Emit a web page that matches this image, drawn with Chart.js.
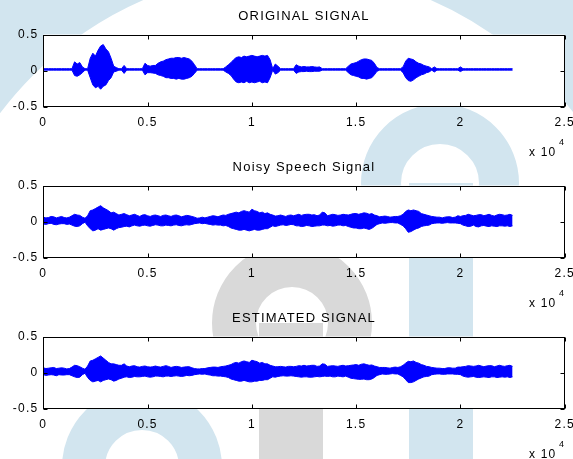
<!DOCTYPE html>
<html>
<head>
<meta charset="utf-8">
<script src="https://cdn.jsdelivr.net/npm/chart.js@4.4.0/dist/chart.umd.min.js"></script>
<style>
  html, body { margin: 0; padding: 0; background: #fff; overflow: hidden; }
  #wrap { position: relative; width: 573px; height: 459px; }
  #wrap svg, #wrap canvas { position: absolute; left: 0; }
</style>
</head>
<body>
<div id="wrap">
  <!-- faint logo watermark behind the figure -->
  <svg width="573" height="459" style="top:0">
    <circle cx="287" cy="329" r="559" fill="none" stroke="#d2e5ef" stroke-width="400"/>
    <circle cx="440" cy="183" r="59" fill="none" stroke="#d2e5ef" stroke-width="40"/>
    <rect x="409" y="183" width="64" height="280" fill="#d2e5ef"/>
    <circle cx="292" cy="323" r="58" fill="none" stroke="#d9d9d9" stroke-width="44"/>
    <rect x="259" y="323" width="64" height="140" fill="#d9d9d9"/>
    <circle cx="142" cy="467" r="58.5" fill="none" stroke="#d2e5ef" stroke-width="43"/>
  </svg>
  <canvas id="c1" width="573" height="165" style="top:0"></canvas>
  <canvas id="c2" width="573" height="165" style="top:151px"></canvas>
  <canvas id="c3" width="573" height="165" style="top:302px"></canvas>
</div>
<script>
// sample index (x axis), one envelope reading every 125 samples
const sampleIdx = [
  0, 125, 250, 375, 500, 625, 750, 875, 1000, 1125, 1250, 1375, 1500, 1625, 1750, 1875,
  2000, 2125, 2250, 2375, 2500, 2625, 2750, 2875, 3000, 3125, 3250, 3375, 3500, 3625, 3750, 3875,
  4000, 4125, 4250, 4375, 4500, 4625, 4750, 4875, 5000, 5125, 5250, 5375, 5500, 5625, 5750, 5875,
  6000, 6125, 6250, 6375, 6500, 6625, 6750, 6875, 7000, 7125, 7250, 7375, 7500, 7625, 7750, 7875,
  8000, 8125, 8250, 8375, 8500, 8625, 8750, 8875, 9000, 9125, 9250, 9375, 9500, 9625, 9750, 9875,
  10000, 10125, 10250, 10375, 10500, 10625, 10750, 10875, 11000, 11125, 11250, 11375, 11500, 11625, 11750, 11875,
  12000, 12125, 12250, 12375, 12500, 12625, 12750, 12875, 13000, 13125, 13250, 13375, 13500, 13625, 13750, 13875,
  14000, 14125, 14250, 14375, 14500, 14625, 14750, 14875, 15000, 15125, 15250, 15375, 15500, 15625, 15750, 15875,
  16000, 16125, 16250, 16375, 16500, 16625, 16750, 16875, 17000, 17125, 17250, 17375, 17500, 17625, 17750, 17875,
  18000, 18125, 18250, 18375, 18500, 18625, 18750, 18875, 19000, 19125, 19250, 19375, 19500, 19625, 19750, 19875,
  20000, 20125, 20250, 20375, 20500, 20625, 20750, 20875, 21000, 21125, 21250, 21375, 21500, 21625, 21750, 21875,
  22000, 22125, 22250, 22375, 22500];

// upper / lower envelope of each waveform
const origUpper = [
  0.025, 0.025, 0.025, 0.025, 0.025, 0.025, 0.025, 0.025, 0.025, 0.025, 0.025,
  0.025, 0.12, 0.09, 0.11, 0.05, 0.025,
  0.025, 0.17, 0.24, 0.2, 0.28, 0.34, 0.36, 0.3, 0.26, 0.17, 0.06, 0.04,
  0.025, 0.025, 0.07,
  0.025, 0.025, 0.025, 0.025, 0.025, 0.025, 0.025,
  0.1, 0.07, 0.06, 0.07, 0.07,
  0.1, 0.12, 0.13, 0.15, 0.16, 0.17, 0.17, 0.18, 0.18, 0.17, 0.18, 0.17, 0.16, 0.13, 0.08, 0.025,
  0.025, 0.025, 0.025, 0.025, 0.025, 0.025, 0.025, 0.025, 0.025, 0.025,
  0.05, 0.08, 0.11, 0.15, 0.18, 0.19, 0.18, 0.2, 0.19, 0.2, 0.21, 0.2, 0.19, 0.2, 0.21, 0.2, 0.21, 0.15, 0.025, 0.09, 0.06, 0.025,
  0.025, 0.025, 0.025, 0.025, 0.025,
  0.08, 0.06, 0.05, 0.055, 0.05, 0.05, 0.055, 0.05, 0.045, 0.05, 0.025,
  0.025, 0.025, 0.025, 0.025, 0.025, 0.025, 0.025, 0.025, 0.025,
  0.06, 0.09, 0.1, 0.11, 0.13, 0.15, 0.16, 0.16, 0.15, 0.14, 0.1, 0.04, 0.025,
  0.025, 0.025, 0.025, 0.025, 0.025, 0.025, 0.025, 0.025,
  0.05, 0.13, 0.17, 0.16, 0.15, 0.12, 0.1, 0.09, 0.07, 0.06, 0.05, 0.025, 0.05, 0.025,
  0.025, 0.025, 0.025, 0.025, 0.025, 0.025, 0.025, 0.025,
  0.05,
  0.025, 0.025, 0.025, 0.025, 0.025, 0.025, 0.025, 0.025, 0.025, 0.025,
  0.025, 0.025, 0.025, 0.025, 0.025, 0.025, 0.025, 0.025, 0.025, 0.025];
const origLower = [
  0.005, 0.005, 0.005, 0.005, 0.005, 0.005, 0.005, 0.005, 0.005, 0.005, 0.005,
  0.005, -0.07, -0.08, -0.06, -0.03, 0.005,
  0.005, -0.1, -0.2, -0.24, -0.22, -0.26, -0.22, -0.2, -0.14, -0.1, -0.02, -0.01,
  0.005, 0.005, -0.04,
  0.005, 0.005, 0.005, 0.005, 0.005, 0.005, 0.005,
  -0.06, -0.03, -0.03, -0.035, -0.04,
  -0.06, -0.07, -0.08, -0.1, -0.1, -0.11, -0.11, -0.12, -0.11, -0.12, -0.12, -0.11, -0.1, -0.08, -0.04, 0.005,
  0.005, 0.005, 0.005, 0.005, 0.005, 0.005, 0.005, 0.005, 0.005, 0.005,
  -0.02, -0.04, -0.07, -0.12, -0.16, -0.17, -0.16, -0.17, -0.15, -0.17, -0.16, -0.17, -0.16, -0.15, -0.17, -0.16, -0.17, -0.1, 0.005, -0.05, -0.03, 0.005,
  0.005, 0.005, 0.005, 0.005, 0.005,
  -0.04, -0.02, -0.015, -0.015, -0.01, -0.015, -0.015, -0.01, -0.01, -0.01, 0.005,
  0.005, 0.005, 0.005, 0.005, 0.005, 0.005, 0.005, 0.005, 0.005,
  -0.03, -0.06, -0.07, -0.08, -0.09, -0.11, -0.11, -0.12, -0.11, -0.1, -0.06, -0.01, 0.005,
  0.005, 0.005, 0.005, 0.005, 0.005, 0.005, 0.005, 0.005,
  -0.03, -0.1, -0.14, -0.15, -0.13, -0.1, -0.08, -0.06, -0.05, -0.03, -0.02, 0.005, -0.02, 0.005,
  0.005, 0.005, 0.005, 0.005, 0.005, 0.005, 0.005, 0.005,
  -0.015,
  0.005, 0.005, 0.005, 0.005, 0.005, 0.005, 0.005, 0.005, 0.005, 0.005,
  0.005, 0.005, 0.005, 0.005, 0.005, 0.005, 0.005, 0.005, 0.005, 0.005];

const noisyUpper = [
  0.06, 0.05, 0.055, 0.07, 0.065, 0.05, 0.06, 0.07, 0.055, 0.05, 0.06, 0.08, 0.10, 0.09, 0.085, 0.06,
  0.045, 0.08, 0.15, 0.16, 0.18, 0.2, 0.22, 0.19, 0.17, 0.15, 0.12, 0.13, 0.11, 0.09, 0.10, 0.11,
  0.095, 0.08, 0.09, 0.1, 0.085, 0.07, 0.09, 0.095, 0.08, 0.07, 0.085, 0.09, 0.08, 0.07, 0.085, 0.09,
  0.08, 0.07, 0.085, 0.09, 0.08, 0.065, 0.075, 0.085, 0.08, 0.07, 0.06, 0.045, 0.05, 0.06, 0.05, 0.06,
  0.07, 0.08, 0.075, 0.065, 0.08, 0.09, 0.085, 0.1, 0.11, 0.12, 0.13, 0.12, 0.14, 0.15, 0.14, 0.13,
  0.17, 0.15, 0.14, 0.12, 0.13, 0.11, 0.12, 0.1, 0.09, 0.075, 0.08, 0.09, 0.08, 0.07, 0.085, 0.09,
  0.08, 0.09, 0.10, 0.085, 0.095, 0.1, 0.10, 0.09, 0.095, 0.08, 0.09, 0.13, 0.12, 0.08, 0.09, 0.1,
  0.095, 0.085, 0.09, 0.1, 0.095, 0.09, 0.10, 0.11, 0.11, 0.1, 0.11, 0.12, 0.115, 0.1, 0.11, 0.09,
  0.08, 0.065, 0.07, 0.075, 0.07, 0.06, 0.065, 0.07, 0.07, 0.08, 0.10, 0.14, 0.16, 0.15, 0.16, 0.15,
  0.14, 0.11, 0.10, 0.09, 0.08, 0.07, 0.065, 0.06, 0.06, 0.05, 0.06, 0.065, 0.065, 0.055, 0.06, 0.08,
  0.07, 0.08, 0.085, 0.1, 0.09, 0.08, 0.085, 0.095, 0.095, 0.08, 0.09, 0.1, 0.085, 0.075, 0.09, 0.1,
  0.095, 0.085, 0.09, 0.1, 0.085];
const noisyLower = [
  -0.035, -0.04, -0.03, -0.025, -0.04, -0.045, -0.035, -0.03, -0.03, -0.04, -0.035, -0.05, -0.065, -0.07, -0.06, -0.03,
  -0.01, -0.06, -0.10, -0.13, -0.12, -0.1, -0.12, -0.11, -0.10, -0.09, -0.10, -0.12, -0.10, -0.085, -0.08, -0.07,
  -0.065, -0.075, -0.06, -0.05, -0.06, -0.065, -0.055, -0.05, -0.06, -0.065, -0.055, -0.045, -0.05, -0.06, -0.06, -0.05,
  -0.055, -0.06, -0.05, -0.045, -0.055, -0.06, -0.05, -0.045, -0.05, -0.04, -0.03, -0.025, -0.02, -0.03, -0.025, -0.035,
  -0.04, -0.05, -0.045, -0.05, -0.05, -0.06, -0.055, -0.07, -0.09, -0.1, -0.11, -0.12, -0.12, -0.11, -0.12, -0.13,
  -0.12, -0.11, -0.12, -0.12, -0.11, -0.1, -0.10, -0.08, -0.06, -0.07, -0.06, -0.05, -0.045, -0.055, -0.05, -0.04,
  -0.045, -0.06, -0.06, -0.07, -0.065, -0.055, -0.06, -0.07, -0.065, -0.06, -0.06, -0.05, -0.05, -0.06, -0.055, -0.065,
  -0.06, -0.05, -0.05, -0.06, -0.055, -0.07, -0.08, -0.09, -0.09, -0.1, -0.10, -0.09, -0.10, -0.11, -0.095, -0.07,
  -0.04, -0.03, -0.02, -0.025, -0.02, -0.015, -0.015, -0.02, -0.02, -0.04, -0.06, -0.1, -0.15, -0.14, -0.12, -0.1,
  -0.09, -0.07, -0.06, -0.055, -0.05, -0.03, -0.025, -0.02, -0.02, -0.025, -0.02, -0.015, -0.02, -0.02, -0.02, -0.025,
  -0.03, -0.05, -0.06, -0.07, -0.065, -0.05, -0.07, -0.075, -0.06, -0.055, -0.065, -0.07, -0.06, -0.065, -0.07, -0.06,
  -0.06, -0.065, -0.06, -0.07, -0.06];

const estUpper = [
  0.065, 0.055, 0.06, 0.065, 0.07, 0.055, 0.06, 0.065, 0.06, 0.05, 0.055, 0.075, 0.10, 0.095, 0.08, 0.06,
  0.045, 0.09, 0.16, 0.17, 0.19, 0.21, 0.23, 0.2, 0.17, 0.14, 0.12, 0.12, 0.11, 0.1, 0.10, 0.12,
  0.09, 0.08, 0.09, 0.095, 0.08, 0.075, 0.085, 0.09, 0.08, 0.075, 0.08, 0.09, 0.08, 0.075, 0.085, 0.095,
  0.085, 0.07, 0.08, 0.085, 0.08, 0.07, 0.075, 0.08, 0.08, 0.065, 0.055, 0.05, 0.05, 0.055, 0.055, 0.065,
  0.07, 0.075, 0.075, 0.07, 0.08, 0.085, 0.09, 0.1, 0.11, 0.13, 0.14, 0.13, 0.15, 0.16, 0.15, 0.14,
  0.17, 0.16, 0.15, 0.13, 0.14, 0.12, 0.12, 0.1, 0.09, 0.08, 0.08, 0.085, 0.08, 0.075, 0.085, 0.085,
  0.08, 0.085, 0.095, 0.09, 0.10, 0.09, 0.095, 0.1, 0.10, 0.085, 0.09, 0.12, 0.115, 0.085, 0.09, 0.095,
  0.09, 0.085, 0.095, 0.1, 0.09, 0.095, 0.10, 0.105, 0.11, 0.1, 0.115, 0.12, 0.11, 0.1, 0.105, 0.09,
  0.08, 0.07, 0.07, 0.07, 0.065, 0.06, 0.07, 0.075, 0.07, 0.08, 0.10, 0.13, 0.155, 0.15, 0.16, 0.14,
  0.13, 0.11, 0.10, 0.085, 0.08, 0.07, 0.065, 0.06, 0.06, 0.055, 0.055, 0.065, 0.065, 0.06, 0.06, 0.075,
  0.075, 0.08, 0.085, 0.095, 0.09, 0.085, 0.09, 0.1, 0.09, 0.08, 0.09, 0.095, 0.095, 0.08, 0.09, 0.1,
  0.09, 0.085, 0.095, 0.1, 0.085];
const estLower = [
  -0.03, -0.04, -0.035, -0.03, -0.035, -0.045, -0.03, -0.035, -0.035, -0.03, -0.03, -0.045, -0.06, -0.07, -0.065, -0.03,
  -0.01, -0.07, -0.11, -0.13, -0.12, -0.11, -0.13, -0.11, -0.10, -0.09, -0.10, -0.12, -0.11, -0.09, -0.08, -0.065,
  -0.06, -0.07, -0.065, -0.055, -0.06, -0.06, -0.055, -0.05, -0.06, -0.065, -0.06, -0.05, -0.05, -0.055, -0.06, -0.05,
  -0.05, -0.055, -0.05, -0.045, -0.05, -0.055, -0.05, -0.04, -0.045, -0.04, -0.03, -0.025, -0.02, -0.025, -0.02, -0.03,
  -0.035, -0.045, -0.045, -0.05, -0.05, -0.055, -0.06, -0.07, -0.09, -0.1, -0.11, -0.12, -0.12, -0.11, -0.12, -0.13,
  -0.13, -0.12, -0.12, -0.11, -0.11, -0.1, -0.10, -0.08, -0.06, -0.065, -0.055, -0.05, -0.045, -0.05, -0.05, -0.045,
  -0.05, -0.055, -0.06, -0.065, -0.06, -0.06, -0.065, -0.065, -0.06, -0.055, -0.06, -0.055, -0.05, -0.055, -0.05, -0.06,
  -0.06, -0.05, -0.055, -0.06, -0.05, -0.065, -0.08, -0.085, -0.09, -0.095, -0.095, -0.09, -0.10, -0.1, -0.09, -0.07,
  -0.04, -0.03, -0.02, -0.025, -0.025, -0.02, -0.015, -0.02, -0.02, -0.04, -0.06, -0.1, -0.14, -0.14, -0.13, -0.11,
  -0.09, -0.075, -0.06, -0.055, -0.05, -0.03, -0.025, -0.02, -0.02, -0.025, -0.025, -0.02, -0.02, -0.02, -0.025, -0.025,
  -0.03, -0.05, -0.06, -0.065, -0.06, -0.055, -0.065, -0.07, -0.065, -0.06, -0.065, -0.07, -0.06, -0.06, -0.07, -0.065,
  -0.06, -0.065, -0.06, -0.07, -0.06];

const titles = ['ORIGINAL SIGNAL', 'Noisy Speech Signal', 'ESTIMATED SIGNAL'];
const xTickStep = 5000;
const yTicks = [-0.5, 0, 0.5];

const blue = '#0000ff';
const fontFamily = "'Liberation Sans', Arial, Helvetica, sans-serif";

// MATLAB-ish axes: white box, black frame, inward tick marks, "x 10^4" exponent
const matlabBox = {
  id: 'matlabBox',
  beforeDraw(chart) {
    const { ctx, chartArea: a } = chart;
    ctx.letterSpacing = '1.2px';
    ctx.save();
    ctx.fillStyle = '#fff';
    ctx.fillRect(a.left, a.top, a.right - a.left, a.bottom - a.top);
    ctx.restore();
  },
  afterDatasetsDraw(chart) {
    const { ctx, chartArea: a, scales } = chart;
    const l = Math.round(a.left) + 0.5, r = Math.round(a.right) - 0.5;
    const t = Math.round(a.top) + 0.5, b = Math.round(a.bottom) - 0.5;
    ctx.save();
    ctx.strokeStyle = '#000';
    ctx.lineWidth = 1;
    ctx.strokeRect(l, t, r - l, b - t);
    ctx.beginPath();
    scales.x.ticks.forEach(tk => {
      const px = Math.round(scales.x.getPixelForValue(tk.value)) + 0.5;
      ctx.moveTo(px, b); ctx.lineTo(px, b - 4);
      ctx.moveTo(px, t); ctx.lineTo(px, t + 4);
    });
    scales.y.ticks.forEach(tk => {
      const py = Math.round(scales.y.getPixelForValue(tk.value)) + 0.5;
      ctx.moveTo(l, py); ctx.lineTo(l + 4, py);
      ctx.moveTo(r, py); ctx.lineTo(r - 4, py);
    });
    ctx.stroke();
    ctx.restore();
  },
  afterDraw(chart) {
    const { ctx, chartArea: a } = chart;
    ctx.save();
    ctx.fillStyle = '#000';
    ctx.textBaseline = 'alphabetic';
    ctx.font = '12px ' + fontFamily;
    ctx.fillText('x 10', a.right - 35.7, a.bottom + 49.5);
    ctx.font = '9px ' + fontFamily;
    ctx.fillText('4', a.right - 5.7, a.bottom + 38.5);
    ctx.restore();
  }
};

function makeChart(id, title, upper, lower) {
  const toPts = arr => arr.map((v, i) => ({ x: sampleIdx[i], y: v }));
  return new Chart(document.getElementById(id), {
    type: 'line',
    data: {
      datasets: [
        { data: toPts(upper), borderColor: blue, backgroundColor: blue, borderWidth: 1,
          pointRadius: 0, tension: 0, fill: '+1' },
        { data: toPts(lower), borderColor: blue, backgroundColor: blue, borderWidth: 1,
          pointRadius: 0, tension: 0, fill: false }
      ]
    },
    options: {
      responsive: false,
      animation: false,
      devicePixelRatio: 1,
      layout: { padding: { left: 0, right: 8.3, top: 0, bottom: 0 } },
      plugins: {
        legend: { display: false },
        tooltip: { enabled: false },
        title: {
          display: true, text: title, fullSize: false, color: '#000',
          font: { family: fontFamily, size: 13, weight: 'normal' },
          padding: { top: 8.9, bottom: 10 }
        }
      },
      scales: {
        x: {
          type: 'linear', min: 0, max: 25000,
          grid: { display: false, drawTicks: false },
          border: { display: false },
          ticks: {
            stepSize: xTickStep, padding: 9, color: '#000', maxRotation: 0,
            font: { family: fontFamily, size: 12 },
            callback: v => String(v / 10000)
          },
          afterFit: s => { s.height = 58.5; s.paddingLeft = 0; s.paddingRight = 0; }
        },
        y: {
          min: -0.5, max: 0.5,
          grid: { display: false, drawTicks: false },
          border: { display: false },
          afterBuildTicks: s => { s.ticks = yTicks.map(v => ({ value: v })); },
          ticks: {
            padding: 5, color: '#000',
            font: { family: fontFamily, size: 12 },
            callback: v => String(v)
          },
          afterFit: s => { s.width = 43.3; s.paddingTop = 0; s.paddingBottom = 0; }
        }
      }
    },
    plugins: [matlabBox]
  });
}

makeChart('c1', titles[0], origUpper, origLower);
makeChart('c2', titles[1], noisyUpper, noisyLower);
makeChart('c3', titles[2], estUpper, estLower);
</script>
</body>
</html>
